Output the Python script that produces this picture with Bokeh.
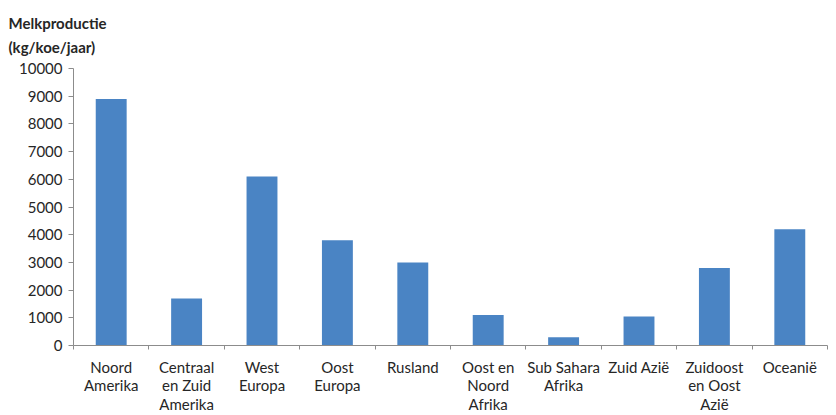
from bokeh.plotting import figure
from bokeh.models import Range1d, FixedTicker, ColumnDataSource
from bokeh.embed import file_html
from bokeh.resources import INLINE

# Average milk yield per cow per region
regions = [
    "Noord\nAmerika", "Centraal\nen Zuid\nAmerika", "West\nEuropa", "Oost\nEuropa",
    "Rusland", "Oost en\nNoord\nAfrika", "Sub Sahara\nAfrika", "Zuid Azië",
    "Zuidoost\nen Oost\nAzië", "Oceanië",
]
milk_yield = [8900, 1700, 6100, 3800, 3000, 1100, 300, 1050, 2800, 4200]
y_ticks = [0, 1000, 2000, 3000, 4000, 5000, 6000, 7000, 8000, 9000, 10000]
y_title = ["Melkproductie", "(kg/koe/jaar)"]

FONT = "Lato"
TEXT_COLOR = "#262626"
AXIS_COLOR = "#8c8c8c"
BAR_COLOR = "#4a84c4"

positions = list(range(len(regions)))
source = ColumnDataSource(dict(x=positions, top=milk_yield))

p = figure(
    width=836, height=415,
    x_range=Range1d(-0.5, len(regions) - 0.5),
    y_range=Range1d(0, 10000),
    output_backend="svg", toolbar_location=None,
    min_border_left=73, min_border_right=9,
    min_border_top=0, min_border_bottom=10,
)
p.outline_line_color = None
p.xgrid.visible = False
p.ygrid.visible = False
p.background_fill_color = "white"
p.border_fill_color = "white"

p.vbar(x="x", top="top", width=0.41, bottom=0, source=source,
       fill_color=BAR_COLOR, line_color=None)

# x axis: names at the bar centres, short ticks between categories
xa = p.xaxis[0]
xa.ticker = FixedTicker(ticks=positions,
                        minor_ticks=[i - 0.5 for i in range(len(regions) + 1)])
xa.major_label_overrides = {i: name for i, name in enumerate(regions)}
xa.major_tick_in = 0
xa.major_tick_out = 0
xa.minor_tick_in = 0
xa.minor_tick_out = 4
xa.minor_tick_line_color = AXIS_COLOR
xa.axis_line_color = AXIS_COLOR
xa.major_label_standoff = 8
xa.major_label_text_font = FONT
xa.major_label_text_font_size = "15px"
xa.major_label_text_color = TEXT_COLOR
xa.major_label_text_line_height = 1.04

ya = p.yaxis[0]
ya.ticker = FixedTicker(ticks=y_ticks)
ya.major_tick_in = 0
ya.major_tick_out = 5
ya.minor_tick_out = 0
ya.minor_tick_in = 0
ya.major_tick_line_color = AXIS_COLOR
ya.axis_line_color = AXIS_COLOR
ya.major_label_standoff = 6
ya.major_label_text_font = FONT
ya.major_label_text_font_size = "15px"
ya.major_label_text_color = TEXT_COLOR

# Value-axis title, two lines above the frame
p.title.text = "\n".join(y_title)
p.title.align = "left"
p.title.offset = -65
p.title.standoff = 24
p.title.text_font = FONT
p.title.text_font_size = "15px"
p.title.text_font_style = "bold"
p.title.text_color = TEXT_COLOR
p.title.text_line_height = 1.35

open("out.html", "w").write(file_html(p, INLINE))
